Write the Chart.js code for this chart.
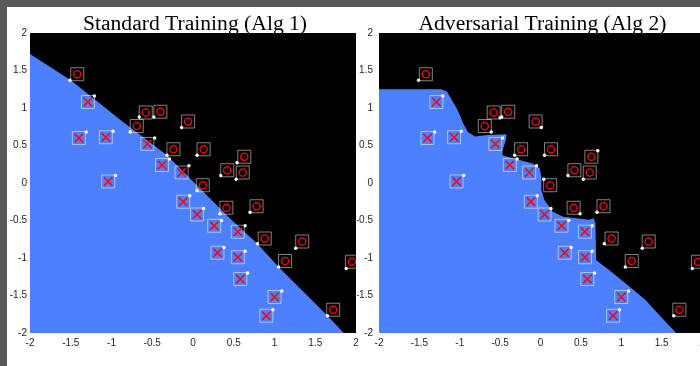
<!DOCTYPE html>
<html>
<head>
<meta charset="utf-8">
<script src="https://cdn.jsdelivr.net/npm/chart.js@4.4.1/dist/chart.umd.min.js"></script>
<style>
    html, body { margin: 0; padding: 0; overflow: hidden; }
    body { width: 700px; height: 366px; background: #595959; position: relative; }
    #sheet { position: absolute; left: 7px; top: 7px; right: 0; bottom: 0; background: #fff; }
    canvas { position: absolute; top: 0; }
    #std { left: 0; }
    #adv { left: 357px; }
</style>
</head>
<body>
<div id="sheet"></div>
<canvas id="std" width="360" height="366"></canvas>
<canvas id="adv" width="349" height="366"></canvas>
<script>
const TITLES = ['Standard Training (Alg 1)', 'Adversarial Training (Alg 2)'];
const AXIS_TICKS = [-2, -1.5, -1, -0.5, 0, 0.5, 1, 1.5, 2];
const TICK_LABELS = ['-2', '-1.5', '-1', '-0.5', '0', '0.5', '1', '1.5', '2'];

// class "o" samples (same in both panels)
const O_X = [-1.42, -0.58, -0.40, -0.06, -0.69, -0.24, 0.13, 0.63, 0.42, 0.61, 0.12, 0.41, 0.78, 0.88, 1.34, 1.13, 1.95, 1.72];
const O_Y = [1.45, 0.94, 0.95, 0.82, 0.76, 0.45, 0.45, 0.35, 0.17, 0.14, -0.03, -0.33, -0.31, -0.74, -0.78, -1.04, -1.05, -1.69];

// class "x" samples
const X_X = [-1.29, -1.40, -1.07, -0.56, -0.38, -0.14, -1.04, -0.12, 0.05, 0.26, 0.55, 0.30, 0.55, 0.58, 1.00, 0.90];
const X_Y = [1.08, 0.60, 0.61, 0.52, 0.24, 0.14, 0.02, -0.25, -0.42, -0.57, -0.65, -0.93, -0.99, -1.28, -1.52, -1.77];

// adversarial points, standard model
const STD_ADV_O_X = [-1.51, -0.66, -0.48, -0.14, -0.77, -0.32, 0.05, 0.54, 0.34, 0.53, 0.05, 0.33, 0.70, 0.79, 1.26, 1.05, 1.88, 1.65];
const STD_ADV_O_Y = [1.37, 0.88, 0.88, 0.74, 0.68, 0.37, 0.37, 0.27, 0.10, 0.05, -0.10, -0.41, -0.39, -0.81, -0.87, -1.12, -1.14, -1.77];
const STD_ADV_X_X = [-1.21, -1.31, -0.98, -0.47, -0.29, -0.05, -0.95, -0.04, 0.13, 0.35, 0.64, 0.38, 0.64, 0.67, 1.09, 0.98];
const STD_ADV_X_Y = [1.16, 0.68, 0.69, 0.60, 0.32, 0.23, 0.10, -0.17, -0.34, -0.50, -0.57, -0.86, -0.91, -1.20, -1.44, -1.69];

// adversarial points, adversarially trained model
const ADV_ADV_O_X = [-1.51, -0.50, -0.48, 0.01, -0.61, -0.32, 0.05, 0.71, 0.34, 0.53, 0.04, 0.49, 0.70, 0.79, 1.26, 1.05, 1.88, 1.65];
const ADV_ADV_O_Y = [1.37, 0.87, 0.88, 0.74, 0.68, 0.37, 0.37, 0.43, 0.10, 0.05, 0.05, -0.41, -0.39, -0.81, -0.87, -1.12, -1.14, -1.77];
const ADV_ADV_X_X = [-1.21, -1.31, -0.98, -0.47, -0.29, -0.05, -0.95, -0.04, 0.13, 0.35, 0.64, 0.38, 0.64, 0.67, 1.09, 0.98];
const ADV_ADV_X_Y = [1.16, 0.68, 0.69, 0.60, 0.32, 0.23, 0.10, -0.17, -0.34, -0.50, -0.57, -0.86, -0.91, -1.20, -1.44, -1.69];

// decision boundary (blue region lies below it)
const STD_BOUND_X = [-2, -1.5, -0.89, -0.32, 0.47, 0.79, 1.05, 1.65, 1.85];
const STD_BOUND_Y = [1.72, 1.37, 0.84, 0.37, -0.49, -0.81, -1.12, -1.77, -2.0];

const ADV_BOUND_X = [-2, -1.23, -1.16, -1.10, -1.04, -1.00, -0.96, -0.90, -0.81, -0.65, -0.42, -0.43, -0.47, -0.47, -0.34, -0.10, -0.01, 0.01, 0.01, 0.05, 0.15, 0.28, 0.44, 0.60, 0.66, 0.68, 0.69, 0.85, 1.10, 1.30, 1.47, 1.68];
const ADV_BOUND_Y = [1.25, 1.25, 1.22, 1.11, 1.00, 0.91, 0.80, 0.68, 0.62, 0.64, 0.65, 0.57, 0.44, 0.37, 0.33, 0.26, 0.20, 0.08, -0.09, -0.23, -0.38, -0.45, -0.47, -0.49, -0.47, -0.54, -1.03, -1.16, -1.38, -1.56, -1.76, -2.0];

const RED = '#ff0000';
const BLUE = 'rgb(77,128,255)';

function zip(xs, ys) {
    return xs.map((x, i) => ({ x: x, y: ys[i] }));
}

// black plot background
const plotBackground = {
    id: 'plotBackground',
    beforeDatasetsDraw(chart) {
        const { ctx, chartArea: a } = chart;
        ctx.save();
        ctx.fillStyle = '#000';
        ctx.fillRect(a.left, a.top, a.width, a.height);
        ctx.restore();
    }
};

// title centred over the plot area
const panelTitle = {
    id: 'panelTitle',
    afterDraw(chart, args, opts) {
        const { ctx, chartArea: a } = chart;
        ctx.save();
        ctx.font = '21.6px "Liberation Serif", "Times New Roman", serif';
        ctx.fillStyle = '#000';
        ctx.textAlign = 'center';
        ctx.textBaseline = 'alphabetic';
        ctx.fillText(opts.text, (a.left + a.right) / 2 + 2, 29.5);
        ctx.restore();
    }
};

function axis(size, padding) {
    return {
        type: 'linear',
        min: -2,
        max: 2,
        grid: { display: false, drawTicks: false },
        border: { display: false },
        afterBuildTicks: scale => { scale.ticks = AXIS_TICKS.map(v => ({ value: v })); },
        afterFit: scale => {
            if (scale.isHorizontal()) scale.height = size; else scale.width = size;
            scale.paddingLeft = scale.paddingRight = 0;
            scale.paddingTop = scale.paddingBottom = 0;
        },
        ticks: {
            padding: padding,
            color: '#262626',
            font: { family: '"Liberation Sans", Arial, sans-serif', size: 10 },
            callback: value => TICK_LABELS[AXIS_TICKS.indexOf(value)]
        }
    };
}

function makePanel(id, title, bx, by, aox, aoy, axx, axy, yWidth, yPad) {
    const datasets = [
        {
            label: 'adversarial',
            data: zip(aox, aoy).concat(zip(axx, axy)),
            pointStyle: 'circle',
            pointRadius: 1.7,
            backgroundColor: '#fff',
            borderWidth: 0,
            clip: false
        },
        {
            label: 'o',
            data: zip(O_X, O_Y),
            pointStyle: 'circle',
            pointRadius: 3.6,
            borderColor: RED,
            borderWidth: 1.3,
            backgroundColor: 'transparent',
            clip: false
        },
        {
            label: 'x',
            data: zip(X_X, X_Y),
            pointStyle: 'crossRot',
            pointRadius: 6,
            borderColor: RED,
            borderWidth: 1.6,
            clip: false
        },
        {
            label: 'box',
            data: zip(O_X, O_Y).concat(zip(X_X, X_Y)),
            pointStyle: 'rect',
            pointRadius: 9.2,
            borderColor: 'rgba(255,255,255,0.5)',
            borderWidth: 1,
            backgroundColor: 'transparent',
            clip: false
        },
        {
            type: 'line',
            label: 'region',
            data: zip(bx, by),
            fill: 'start',
            backgroundColor: BLUE,
            borderWidth: 0,
            pointRadius: 0,
            tension: 0,
            clip: 0
        }
    ];

    new Chart(document.getElementById(id), {
        type: 'scatter',
        data: { datasets: datasets },
        plugins: [plotBackground, panelTitle],
        options: {
            responsive: false,
            animation: false,
            events: [],
            layout: {
                autoPadding: false, // markers may overhang the plot edge
                padding: { top: 33, right: 4, left: 0, bottom: 0 }
            },
            scales: {
                x: axis(33, 4),
                y: axis(yWidth, yPad)
            },
            plugins: {
                legend: { display: false },
                tooltip: { enabled: false },
                panelTitle: { text: title }
            }
        }
    });
}

makePanel('std', TITLES[0], STD_BOUND_X, STD_BOUND_Y,
    STD_ADV_O_X, STD_ADV_O_Y, STD_ADV_X_X, STD_ADV_X_Y, 30, 3);
makePanel('adv', TITLES[1], ADV_BOUND_X, ADV_BOUND_Y,
    ADV_ADV_O_X, ADV_ADV_O_Y, ADV_ADV_X_X, ADV_ADV_X_Y, 22, 6);
</script>
</body>
</html>
